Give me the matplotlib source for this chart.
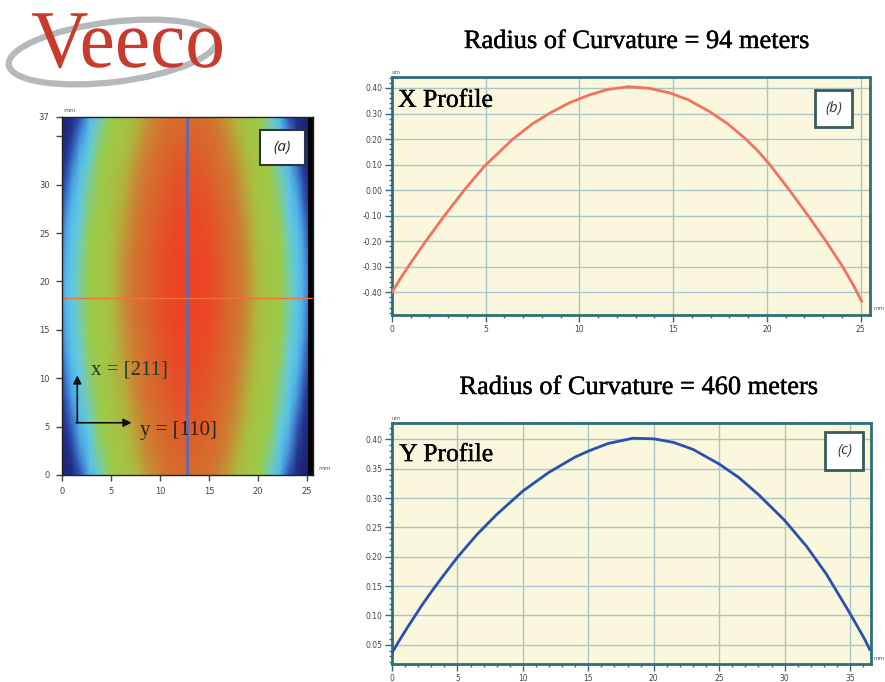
import numpy as np
import matplotlib
matplotlib.use('Agg')
import matplotlib.pyplot as plt
import matplotlib.patheffects as pe
from matplotlib.colors import LinearSegmentedColormap
from matplotlib.patches import Ellipse, PathPatch, Rectangle
from matplotlib.textpath import TextPath
from matplotlib.font_manager import FontProperties
from matplotlib.transforms import Affine2D
from matplotlib.ticker import MultipleLocator, FormatStrFormatter

plt.rcParams['axes.unicode_minus'] = False

# X profile (b): position along x (mm) and height (um)
x_pos = [0, 0.5, 1.0, 1.8, 2.8, 3.85, 4.95, 6.45, 7.5, 8.5, 9.5, 10.5, 11.5, 12.6,
         13.7, 14.8, 15.8, 17.0, 17.9, 18.8, 19.5, 20.15, 21.2, 22.2, 23.15, 24.0, 24.6, 25.05]
x_height = [-0.40, -0.34, -0.285, -0.20, -0.10, 0.00, 0.095, 0.20, 0.26, 0.305, 0.343, 0.372, 0.394, 0.405,
            0.399, 0.381, 0.354, 0.305, 0.26, 0.205, 0.155, 0.10, 0.00, -0.10, -0.20, -0.295, -0.37, -0.435]

# Y profile (c)
y_pos = [0, 0.5, 1.2, 2.25, 3.1, 3.9, 5.0, 6.5, 8.0, 10.0, 12.0, 14.0, 15.0, 16.5, 18.4,
         20.0, 21.5, 23.0, 25.0, 26.5, 28.0, 30.0, 31.7, 33.2, 35.0, 36.1, 36.5]
y_height = [0.036, 0.055, 0.080, 0.116, 0.143, 0.167, 0.199, 0.238, 0.272, 0.312, 0.344, 0.370, 0.380, 0.393, 0.402,
            0.401, 0.395, 0.383, 0.358, 0.335, 0.306, 0.262, 0.217, 0.170, 0.103, 0.060, 0.042]

title_b = 'Radius of Curvature = 94 meters'
title_c = 'Radius of Curvature = 460 meters'

# map (a): colour levels are in "drop below the top" (um)
map_xticks = [0, 5, 10, 15, 20, 25]
map_yticks = [0, 5, 10, 15, 20, 25, 30, 35, 37]
map_yticklabels = ['0', '5', '10', '15', '20', '25', '30', '', '37']
map_levels = [-1.20, -0.96, -0.88, -0.805, -0.74, -0.655, -0.60, -0.53, -0.31, -0.25, -0.20,
              -0.145, -0.10, -0.06, -0.03, 0.0]
map_colors = ['#19206a', '#22308a', '#3058b8', '#4a9ee0', '#58c0ea', '#62cce4', '#7ccc98', '#9bcd4a',
              '#a8c042', '#b8a83c', '#c88a34', '#d4722e', '#d8682c', '#e2582a', '#ea4a28', '#ee4226']
y_weight = 0.3
cross_weight = 0.8
cross_x = 12.7
cross_y = 18.3

W, H = 885, 682
fig = plt.figure(figsize=(W / 100, H / 100), dpi=100)
fig.patch.set_facecolor('white')
heavy = [pe.withStroke(linewidth=0.3, foreground='black')]


def frac(l, t, r, b):
    return [l / W, 1 - b / H, (r - l) / W, (b - t) / H]


# ---- logo ----
ax_logo = fig.add_axes([0, 0, 1, 1])
ax_logo.set_xlim(0, W)
ax_logo.set_ylim(H, 0)
ax_logo.axis('off')
ax_logo.add_patch(Ellipse((113, 52), 210, 60, angle=-7, fill=False,
                          ec='#b5b9bc', lw=4.5))
fp = FontProperties(family='Liberation Serif')
tp = TextPath((0, 0), 'Veeco', size=100, prop=fp)
bb = tp.get_extents()
tr = Affine2D().translate(-bb.x0, 0).scale(190 / bb.width, -55 / bb.height).translate(32, 67)
ax_logo.add_patch(PathPatch(tr.transform_path(tp), fc='#c93a2e', ec='none'))

fig.text(637 / W, 1 - 42 / H, title_b, family='Liberation Serif', fontsize=19,
         ha='center', va='center', color='black', path_effects=heavy)
fig.text(639 / W, 1 - 388 / H, title_c, family='Liberation Serif', fontsize=19,
         ha='center', va='center', color='black', path_effects=heavy)

# ---- map (a) ----
ax_a = fig.add_axes(frac(62, 117, 313, 475))
ax_a.set_facecolor('black')
sag_x = max(x_height) - np.array(x_height)
sag_y = max(y_height) - np.array(y_height)
U, V = np.meshgrid(sag_x, sag_y)
Z = -U - y_weight * V - cross_weight * U * V
ygrid = np.array(y_pos) / y_pos[-1] * 37
X, Y = np.meshgrid(x_pos, ygrid)
nodes = [(v - map_levels[0]) / (map_levels[-1] - map_levels[0]) for v in map_levels]
cmap = LinearSegmentedColormap.from_list('veeco', list(zip(nodes, map_colors)))
ax_a.pcolormesh(X, Y, Z, shading='gouraud', cmap=cmap, vmin=map_levels[0], vmax=map_levels[-1])
ax_a.axvline(cross_x, color='#5f6aae', lw=2)
ax_a.axhline(cross_y, color='#f07040', lw=0.9)
ax_a.set_xlim(0, 25.6)
ax_a.set_ylim(0, 37)
ax_a.set_xticks(map_xticks)
ax_a.set_yticks(map_yticks)
ax_a.set_yticklabels(map_yticklabels)
ax_a.tick_params(direction='out', length=4, width=1, colors='#444', labelsize=6, pad=5)
for s in ax_a.spines.values():
    s.set_color('#222')
    s.set_linewidth(1)
ax_a.annotate('', xy=(1.56, 10.3), xytext=(1.56, 5.4),
              arrowprops=dict(arrowstyle='-|>', color='#111', lw=1.2, mutation_scale=12, shrinkA=0, shrinkB=0))
ax_a.annotate('', xy=(7.1, 5.4), xytext=(1.45, 5.4),
              arrowprops=dict(arrowstyle='-|>', color='#111', lw=1.2, mutation_scale=12, shrinkA=0, shrinkB=0))
ax_a.text(3.0, 10.85, 'x = [211]', family='Liberation Serif', fontsize=15, color='#1f3d2a', va='center')
ax_a.text(8.0, 4.65, 'y = [110]', family='Liberation Serif', fontsize=15, color='#2a2412', va='center')
ax_a.add_patch(Rectangle((0.789, 0.866), 0.179, 0.098, transform=ax_a.transAxes,
                         fc='white', ec='#333', lw=1.5, zorder=5))
ax_a.text(0.8785, 0.915, '(a)', transform=ax_a.transAxes, fontsize=11, style='italic',
          family=['Open Sans', 'DejaVu Sans'], ha='center', va='center', color='#222', zorder=6)
fig.text(70 / W, 1 - 110 / H, 'mm', fontsize=4.5, color='#555', ha='center', va='center')
fig.text(318 / W, 1 - 469 / H, 'mm', fontsize=4.5, color='#555', ha='left', va='center')


# ---- profiles ----
def profile_axes(rect, xs, ys, color, xlim, ylim, ymaj, ymin_, label, box, box_label):
    ax = fig.add_axes(rect)
    ax.set_facecolor('#fbf7dc')
    ax.plot(xs, ys, color=color, lw=2, zorder=3)
    ax.set_xlim(*xlim)
    ax.set_ylim(*ylim)
    ax.xaxis.set_major_locator(MultipleLocator(5))
    ax.xaxis.set_minor_locator(MultipleLocator(1))
    ax.yaxis.set_major_locator(MultipleLocator(ymaj))
    ax.yaxis.set_minor_locator(MultipleLocator(ymin_))
    ax.yaxis.set_major_formatter(FormatStrFormatter('%.2f'))
    ax.grid(True, which='major', color='#a9c6cb', lw=1, zorder=1)
    ax.set_axisbelow(True)
    for side in ['top', 'right', 'left', 'bottom']:
        ax.spines[side].set_color('#2e6e7a')
        ax.spines[side].set_linewidth(2)
    ax.tick_params(which='major', direction='out', length=5, width=1, colors='#2e6e7a',
                   labelcolor='#444', labelsize=5.5, pad=2)
    ax.tick_params(which='minor', direction='out', length=2.5, width=1, colors='#2e6e7a')
    ax.text(label[0], label[1], label[2], transform=ax.transAxes, family='Liberation Serif',
            fontsize=18.5, ha='left', va='center', color='black', zorder=6, path_effects=heavy)
    ax.add_patch(Rectangle((box[0], box[1]), box[2] - box[0], box[3] - box[1], transform=ax.transAxes,
                           fc='white', ec='#3a5a60', lw=2, zorder=5))
    ax.text((box[0] + box[2]) / 2, (box[1] + box[3]) / 2, box_label, transform=ax.transAxes,
            fontsize=10.5, style='italic', family=['Open Sans', 'DejaVu Sans'],
            ha='center', va='center', color='#2a3a44', zorder=6)
    return ax


ax_b = profile_axes(frac(392, 77, 870, 315), x_pos, x_height, '#f0735f',
                    (0, 25.5), (-0.489, 0.443), 0.1, 0.02,
                    (0.0126, 0.90, 'X Profile'), (0.885, 0.790, 0.962, 0.945), '(b)')
ax_c = profile_axes(frac(392, 423, 871, 664), y_pos, y_height, '#2352b0',
                    (0, 36.6), (0.017, 0.428), 0.05, 0.01,
                    (0.015, 0.867, 'Y Profile'), (0.905, 0.805, 0.984, 0.964), '(c)')

fig.text(396 / W, 1 - 72 / H, 'um', fontsize=4, color='#555', ha='center', va='center')
fig.text(396 / W, 1 - 418 / H, 'um', fontsize=4, color='#555', ha='center', va='center')
fig.text(874 / W, 1 - 309 / H, 'mm', fontsize=4, color='#555', ha='left', va='center')
fig.text(874 / W, 1 - 659 / H, 'mm', fontsize=4, color='#555', ha='left', va='center')

fig.savefig('out.png', dpi=100)
